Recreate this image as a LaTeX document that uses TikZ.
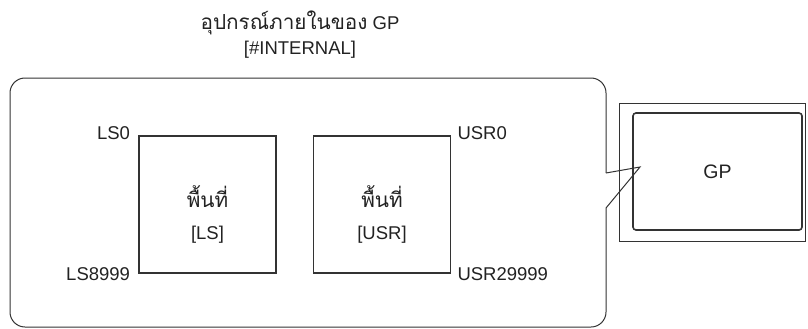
\documentclass[tikz,border=0pt]{standalone}
\usepackage{fontspec}
\setmainfont{Liberation Sans}
\newfontfamily\thaifont[Script=Thai,Scale=1.12]{Loma}
\definecolor{ln}{HTML}{333333}
\definecolor{tx}{HTML}{222222}
\begin{document}
\begin{tikzpicture}[x=1pt,y=-1pt,
  lbl/.style={font=\fontsize{18.5}{20}\selectfont, text=tx, inner sep=0pt},
  area/.style={draw=ln, line width=1.6pt, minimum width=137pt, minimum height=137pt, inner sep=0pt},
  inner/.style={lbl, align=center, font=\fontsize{18.5}{32}\selectfont, anchor=north},
  frame/.style={draw=ln, line width=1pt}]
\useasboundingbox (0,0) rectangle (808,329);
\node[lbl, align=center, font=\fontsize{18.5}{25}\selectfont] (title) at (300,35) {{\thaifont อุปกรณ์ภายในของ} GP\\{}[\#INTERNAL]};
% big callout frame
\coordinate (n1) at (606,173);
\coordinate (n2) at (606,208);
\coordinate (tip) at (640,167);
\draw[frame, rounded corners=15pt] (n1) -- (606,78) -- (10,78) -- (10,327) -- (606,327) -- (n2);
% GP
\node[draw=ln, line width=1pt, minimum width=186pt, minimum height=138pt] (gpout) at (712,172) {};
\node[draw=ln, line width=1.6pt, rounded corners=3pt, minimum width=169pt, minimum height=117pt, fill=white, lbl, font=\fontsize{19.5}{20}\selectfont] (gp) at (717.5,171.5) {GP};
\draw[frame, line join=miter] (n1) -- (tip) -- (n2);
% areas
\node[area] (ls) at (207.5,204.5) {};
\node[area] (usr) at (382,204.5) {};
\node[inner] (lst) at (207.5,185) {{\thaifont พื้นที่}\\{}[LS]};
\node[inner] (usrt) at (382,185) {{\thaifont พื้นที่}\\{}[USR]};
\node[lbl, anchor=east] (ls0) at ([xshift=-8pt,yshift=2pt]ls.north west) {LS0};
\node[lbl, anchor=east] (ls9) at ([xshift=-8pt]ls.south west) {LS8999};
\node[lbl, anchor=west] (u0) at ([xshift=6pt,yshift=2pt]usr.north east) {USR0};
\node[lbl, anchor=west] (u9) at ([xshift=6pt]usr.south east) {USR29999};
\end{tikzpicture}
\end{document}
